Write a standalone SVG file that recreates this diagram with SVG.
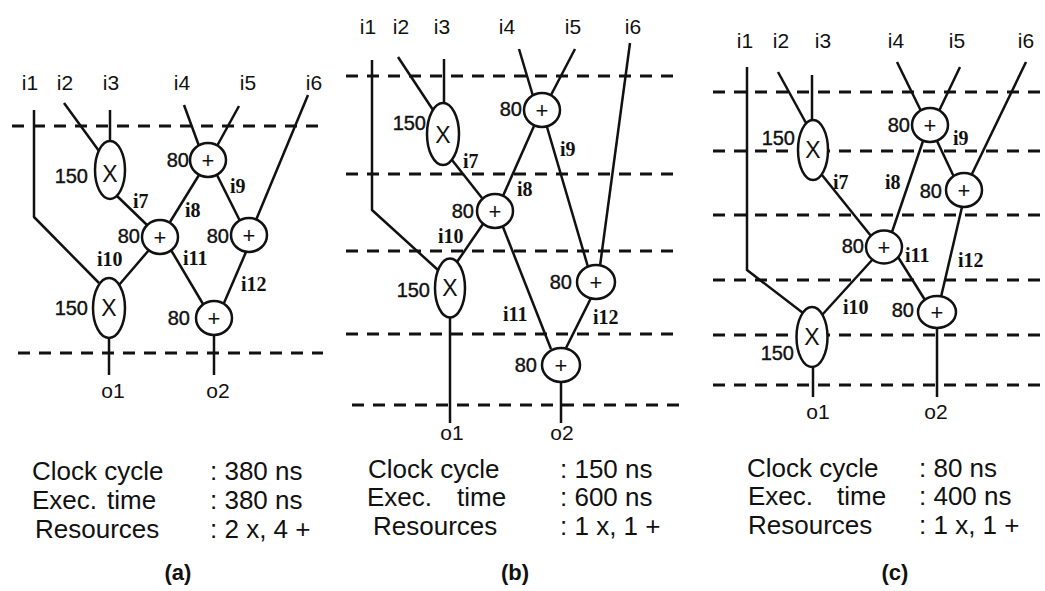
<svg xmlns="http://www.w3.org/2000/svg" width="1045" height="591" viewBox="0 0 1045 591">
<style>
.ln{stroke:#111;stroke-width:2.5;fill:none;stroke-linejoin:round}
.dash{stroke:#111;stroke-width:3;stroke-dasharray:12 9;fill:none}
.nd{fill:#fff;stroke:#111;stroke-width:2.5}
.lbl{font-family:"Liberation Sans",Arial,sans-serif;font-size:21px;fill:#111;text-anchor:middle}
.num{font-family:"Liberation Sans",Arial,sans-serif;font-size:20px;fill:#111;stroke:#111;stroke-width:0.4;text-anchor:end}
.op{font-family:"Liberation Sans",Arial,sans-serif;font-size:22px;fill:#111;text-anchor:middle}
.mx{font-family:"Liberation Sans",Arial,sans-serif;font-size:23px;fill:#111;text-anchor:middle}
.el{font-family:"Liberation Serif","Times New Roman",serif;font-size:20px;font-weight:bold;fill:#111}
.info{font-family:"Liberation Sans",Arial,sans-serif;font-size:26px;fill:#111}
.cap{font-family:"Liberation Sans",Arial,sans-serif;font-size:22px;font-weight:bold;fill:#111;text-anchor:middle}
</style>
<rect width="1045" height="591" fill="#fff"/>

<g id="steps">
<line class="dash" x1="12" y1="126" x2="322" y2="126"/>
<line class="dash" x1="18" y1="353" x2="323" y2="353"/>
<line class="dash" x1="346" y1="76" x2="680" y2="76"/>
<line class="dash" x1="346" y1="174" x2="680" y2="174"/>
<line class="dash" x1="346" y1="251" x2="680" y2="251"/>
<line class="dash" x1="346" y1="334" x2="680" y2="334"/>
<line class="dash" x1="352" y1="405" x2="682" y2="405"/>
<line class="dash" x1="713" y1="92" x2="1042" y2="92"/>
<line class="dash" x1="713" y1="151" x2="1042" y2="151"/>
<line class="dash" x1="713" y1="215" x2="1042" y2="215"/>
<line class="dash" x1="713" y1="280" x2="1042" y2="280"/>
<line class="dash" x1="713" y1="335" x2="1042" y2="335"/>
<line class="dash" x1="713" y1="385" x2="1042" y2="385"/>
</g>

<g id="connectors">
<!-- panel a -->
<polyline class="ln" points="34,110 34,217 99,283"/>
<line class="ln" x1="64" y1="103" x2="99" y2="151"/>
<line class="ln" x1="110" y1="110" x2="110" y2="142"/>
<line class="ln" x1="184" y1="105" x2="199" y2="146"/>
<line class="ln" x1="239" y1="106" x2="217" y2="146"/>
<line class="ln" x1="308" y1="95" x2="256" y2="220"/>
<line class="ln" x1="117" y1="196" x2="147" y2="225"/>
<line class="ln" x1="199" y1="175" x2="170" y2="222"/>
<line class="ln" x1="217" y1="175" x2="240" y2="221"/>
<line class="ln" x1="149" y1="250" x2="119" y2="285"/>
<line class="ln" x1="171" y1="250" x2="203" y2="304"/>
<line class="ln" x1="246" y1="252" x2="224" y2="303"/>
<line class="ln" x1="109" y1="338" x2="109" y2="375"/>
<line class="ln" x1="214" y1="335" x2="214" y2="375"/>
<!-- panel b -->
<polyline class="ln" points="372,60 372,210 438,270"/>
<line class="ln" x1="398" y1="57" x2="433" y2="110"/>
<line class="ln" x1="444" y1="59" x2="444" y2="103"/>
<line class="ln" x1="519" y1="49" x2="533" y2="96"/>
<line class="ln" x1="575" y1="49" x2="551" y2="95"/>
<line class="ln" x1="630" y1="43" x2="600" y2="266"/>
<line class="ln" x1="452" y1="160" x2="482" y2="198"/>
<line class="ln" x1="534" y1="126" x2="503" y2="196"/>
<line class="ln" x1="547" y1="127" x2="588" y2="267"/>
<line class="ln" x1="483" y1="224" x2="457" y2="262"/>
<line class="ln" x1="503" y1="227" x2="551" y2="349"/>
<line class="ln" x1="591" y1="298" x2="566" y2="348"/>
<line class="ln" x1="450" y1="317" x2="450" y2="423"/>
<line class="ln" x1="561" y1="382" x2="561" y2="423"/>
<!-- panel c -->
<polyline class="ln" points="747,67 747,270 803,313"/>
<line class="ln" x1="778" y1="72" x2="806" y2="123"/>
<line class="ln" x1="812" y1="75" x2="812" y2="120"/>
<line class="ln" x1="897" y1="62" x2="921" y2="111"/>
<line class="ln" x1="960" y1="67" x2="939" y2="111"/>
<line class="ln" x1="1026" y1="62" x2="971" y2="176"/>
<line class="ln" x1="822" y1="175" x2="871" y2="236"/>
<line class="ln" x1="923" y1="141" x2="892" y2="232"/>
<line class="ln" x1="937" y1="141" x2="954" y2="177"/>
<line class="ln" x1="873" y1="259" x2="822" y2="315"/>
<line class="ln" x1="898" y1="257" x2="925" y2="300"/>
<line class="ln" x1="962" y1="207" x2="941" y2="297"/>
<line class="ln" x1="813" y1="367" x2="813" y2="397"/>
<line class="ln" x1="937" y1="328" x2="937" y2="397"/>
</g>

<!-- panel a nodes -->
<g id="a-mul1"><ellipse class="nd" cx="110" cy="170" rx="15" ry="29"/><text class="mx" x="110" y="182">X</text><text class="num" x="88" y="183">150</text></g>
<g id="a-add1"><ellipse class="nd" cx="208" cy="160" rx="18" ry="17"/><text class="op" x="208" y="168">+</text><text class="num" x="189" y="167">80</text></g>
<g id="a-add2"><ellipse class="nd" cx="160" cy="237" rx="18" ry="17"/><text class="op" x="160" y="245">+</text><text class="num" x="140" y="243">80</text></g>
<g id="a-add3"><ellipse class="nd" cx="249" cy="235" rx="18" ry="17"/><text class="op" x="249" y="243">+</text><text class="num" x="229" y="243">80</text></g>
<g id="a-mul2"><ellipse class="nd" cx="109" cy="308" rx="16" ry="30"/><text class="mx" x="109" y="316">X</text><text class="num" x="88" y="315">150</text></g>
<g id="a-add4"><ellipse class="nd" cx="214" cy="318" rx="18" ry="17"/><text class="op" x="214" y="326">+</text><text class="num" x="190" y="325">80</text></g>

<!-- panel b nodes -->
<g id="b-mul1"><ellipse class="nd" cx="443" cy="134" rx="16" ry="31"/><text class="mx" x="443" y="143">X</text><text class="num" x="426" y="130">150</text></g>
<g id="b-add1"><ellipse class="nd" cx="542" cy="110" rx="18" ry="17"/><text class="op" x="542" y="118">+</text><text class="num" x="522" y="116">80</text></g>
<g id="b-add2"><ellipse class="nd" cx="495" cy="211" rx="18" ry="17"/><text class="op" x="495" y="219">+</text><text class="num" x="474" y="218">80</text></g>
<g id="b-mul2"><ellipse class="nd" cx="450" cy="288" rx="15" ry="29.5"/><text class="mx" x="450" y="296">X</text><text class="num" x="430" y="297">150</text></g>
<g id="b-add3"><ellipse class="nd" cx="596" cy="282" rx="19" ry="17"/><text class="op" x="596" y="290">+</text><text class="num" x="572" y="289">80</text></g>
<g id="b-add4"><ellipse class="nd" cx="561" cy="365" rx="19" ry="17"/><text class="op" x="561" y="373">+</text><text class="num" x="537" y="372">80</text></g>

<!-- panel c nodes -->
<g id="c-mul1"><ellipse class="nd" cx="813" cy="150" rx="15" ry="30"/><text class="mx" x="813" y="158">X</text><text class="num" x="795" y="145">150</text></g>
<g id="c-add1"><ellipse class="nd" cx="930" cy="125" rx="18" ry="17"/><text class="op" x="930" y="133">+</text><text class="num" x="910" y="132">80</text></g>
<g id="c-add2"><ellipse class="nd" cx="964" cy="190" rx="18" ry="17"/><text class="op" x="964" y="198">+</text><text class="num" x="942" y="198">80</text></g>
<g id="c-add3"><ellipse class="nd" cx="884" cy="247" rx="18" ry="16.5"/><text class="op" x="884" y="255">+</text><text class="num" x="864" y="253">80</text></g>
<g id="c-add4"><ellipse class="nd" cx="937" cy="312" rx="19" ry="16"/><text class="op" x="937" y="320">+</text><text class="num" x="914" y="317">80</text></g>
<g id="c-mul2"><ellipse class="nd" cx="812" cy="337" rx="15.5" ry="30"/><text class="mx" x="812" y="345">X</text><text class="num" x="794" y="360">150</text></g>

<g id="io-labels">
<text class="lbl" x="30" y="90">i1</text><text class="lbl" x="65" y="90">i2</text><text class="lbl" x="111" y="90">i3</text>
<text class="lbl" x="182" y="90">i4</text><text class="lbl" x="248" y="90">i5</text><text class="lbl" x="314" y="90">i6</text>
<text class="lbl" x="113" y="398">o1</text><text class="lbl" x="218" y="398">o2</text>

<text class="lbl" x="368" y="34">i1</text><text class="lbl" x="401" y="34">i2</text><text class="lbl" x="442" y="34">i3</text>
<text class="lbl" x="507" y="34">i4</text><text class="lbl" x="573" y="34">i5</text><text class="lbl" x="633" y="34">i6</text>
<text class="lbl" x="452" y="440">o1</text><text class="lbl" x="562" y="440">o2</text>

<text class="lbl" x="745" y="48">i1</text><text class="lbl" x="781" y="48">i2</text><text class="lbl" x="823" y="48">i3</text>
<text class="lbl" x="896" y="48">i4</text><text class="lbl" x="957" y="48">i5</text><text class="lbl" x="1026" y="48">i6</text>
<text class="lbl" x="818" y="419">o1</text><text class="lbl" x="936" y="419">o2</text>
</g>

<g id="edge-labels">
<text class="el" x="133" y="208">i7</text><text class="el" x="185" y="217">i8</text><text class="el" x="230" y="193">i9</text>
<text class="el" x="97" y="266">i10</text><text class="el" x="183" y="265">i11</text><text class="el" x="241" y="291">i12</text>

<text class="el" x="463" y="168">i7</text><text class="el" x="517" y="196">i8</text><text class="el" x="560" y="156">i9</text>
<text class="el" x="438" y="243">i10</text><text class="el" x="503" y="321">i11</text><text class="el" x="593" y="324">i12</text>

<text class="el" x="833" y="189">i7</text><text class="el" x="885" y="189">i8</text><text class="el" x="953" y="145">i9</text>
<text class="el" x="843" y="314">i10</text><text class="el" x="905" y="262">i11</text><text class="el" x="958" y="267">i12</text>
</g>

<g id="summary">
<text class="info" x="32" y="480">Clock cycle</text><text class="info" x="210" y="480">: 380 ns</text>
<text class="info" x="32" y="509">Exec.</text><text class="info" x="107" y="509">time</text><text class="info" x="210" y="509">: 380 ns</text>
<text class="info" x="35" y="538">Resources</text><text class="info" x="210" y="538">: 2 x, 4 +</text>
<text class="cap" x="178" y="580">(a)</text>

<text class="info" x="368" y="478">Clock cycle</text><text class="info" x="560" y="478">: 150 ns</text>
<text class="info" x="367" y="506">Exec.</text><text class="info" x="457" y="506">time</text><text class="info" x="560" y="506">: 600 ns</text>
<text class="info" x="373" y="535">Resources</text><text class="info" x="560" y="535">: 1 x, 1 +</text>
<text class="cap" x="515" y="580">(b)</text>

<text class="info" x="747" y="477">Clock cycle</text><text class="info" x="919" y="477">: 80 ns</text>
<text class="info" x="748" y="505">Exec.</text><text class="info" x="837" y="505">time</text><text class="info" x="919" y="505">: 400 ns</text>
<text class="info" x="748" y="534">Resources</text><text class="info" x="919" y="534">: 1 x, 1 +</text>
<text class="cap" x="895" y="580">(c)</text>
</g>
</svg>
